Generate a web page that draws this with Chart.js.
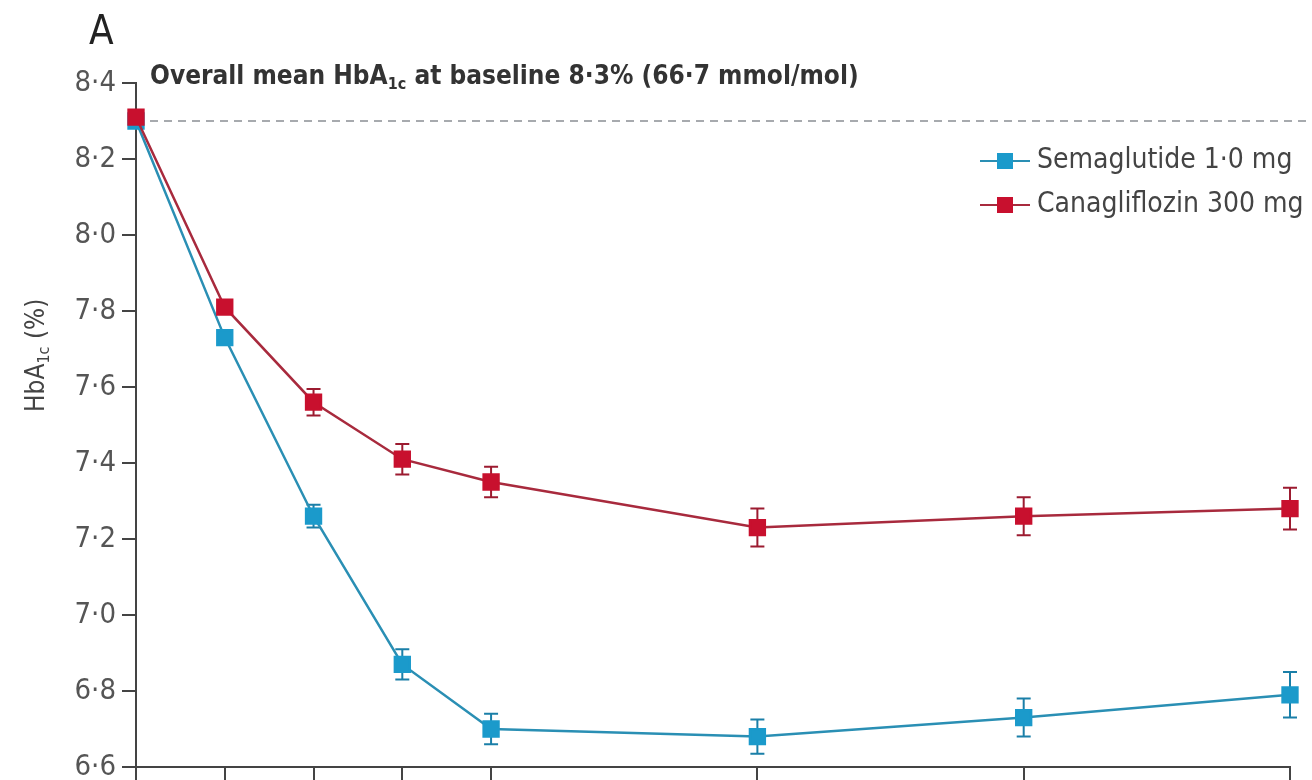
<!DOCTYPE html>
<html>
<head>
<meta charset="utf-8">
<script src="https://cdn.jsdelivr.net/npm/chart.js@4"></script>
<style>
  body { margin: 0; background: #fff; }
  #wrap { width: 1312px; height: 780px; position: relative; }
</style>
</head>
<body>
<div id="wrap"><canvas id="hba1cChart"></canvas></div>
<script>
// weeks since randomisation
const weeks = [0, 4, 8, 12, 16, 28, 40, 52];
const semaglutide = [8.30, 7.73, 7.26, 6.87, 6.70, 6.68, 6.73, 6.79];
const semaglutideErr = [0, 0.015, 0.03, 0.04, 0.04, 0.045, 0.05, 0.06];
const canagliflozin = [8.31, 7.81, 7.56, 7.41, 7.35, 7.23, 7.26, 7.28];
const canagliflozinErr = [0, 0.015, 0.035, 0.04, 0.04, 0.05, 0.05, 0.055];
const yTicks = [6.6, 6.8, 7.0, 7.2, 7.4, 7.6, 7.8, 8.0, 8.2, 8.4];
const baseline = 8.3;

const FONT = "'Liberation Sans Narrow', 'DejaVu Sans Condensed', sans-serif";
const BLUE = '#1b9acb';
const BLUE_LINE = '#2a8fb4';
const RED = '#c8102e';
const RED_LINE = '#a82a3d';

function dot(v) {
    return v.toFixed(1).replace('.', '\u00b7');
}

// text with a "1c" subscript after HbA
function drawHbA(ctx, x, y, size, weight) {
    ctx.font = weight + ' ' + size + 'px ' + FONT;
    ctx.fillText('HbA', x, y);
    let w = ctx.measureText('HbA').width;
    ctx.font = weight + ' ' + Math.round(size * 0.6) + 'px ' + FONT;
    ctx.fillText('1c', x + w, y + size * 0.18);
    w += ctx.measureText('1c').width;
    return x + w;
}

const extras = {
    id: 'extras',
    beforeDatasetsDraw(chart) {
        const ctx = chart.ctx;
        const xs = chart.scales.x, ys = chart.scales.y;
        // dashed baseline
        ctx.save();
        ctx.strokeStyle = '#8a8f94';
        ctx.lineWidth = 1.5;
        ctx.setLineDash([8, 6]);
        ctx.beginPath();
        ctx.moveTo(xs.getPixelForValue(0) + 14, ys.getPixelForValue(baseline));
        ctx.lineTo(chart.width, ys.getPixelForValue(baseline));
        ctx.stroke();
        ctx.restore();
        // error bars
        const sets = [[semaglutide, semaglutideErr, '#1a7fa8'], [canagliflozin, canagliflozinErr, '#9c1b30']];
        sets.forEach(function(s) {
            ctx.save();
            ctx.strokeStyle = s[2];
            ctx.lineWidth = 2;
            weeks.forEach(function(wk, i) {
                if (!s[1][i]) return;
                const px = xs.getPixelForValue(wk);
                const top = ys.getPixelForValue(s[0][i] + s[1][i]);
                const bot = ys.getPixelForValue(s[0][i] - s[1][i]);
                ctx.beginPath();
                ctx.moveTo(px, top); ctx.lineTo(px, bot);
                ctx.moveTo(px - 7, top); ctx.lineTo(px + 7, top);
                ctx.moveTo(px - 7, bot); ctx.lineTo(px + 7, bot);
                ctx.stroke();
            });
            ctx.restore();
        });
    },
    afterDraw(chart) {
        const ctx = chart.ctx;
        ctx.save();
        ctx.fillStyle = '#222';
        ctx.textBaseline = 'alphabetic';
        ctx.textAlign = 'left';
        ctx.font = '40px ' + FONT;
        ctx.fillText('A', 89, 44);
        // title
        ctx.fillStyle = '#333';
        let x = 150;
        ctx.font = 'bold 26px ' + FONT;
        ctx.fillText('Overall mean ', x, 84);
        x += ctx.measureText('Overall mean ').width;
        x = drawHbA(ctx, x, 84, 26, 'bold');
        ctx.font = 'bold 26px ' + FONT;
        ctx.fillText(' at baseline 8\u00b73% (66\u00b77 mmol/mol)', x, 84);
        ctx.restore();
        // y title
        ctx.save();
        ctx.fillStyle = '#444';
        ctx.translate(44, 412);
        ctx.rotate(-Math.PI / 2);
        let tx = drawHbA(ctx, 0, 0, 26, '');
        ctx.font = '26px ' + FONT;
        ctx.fillText(' (%)', tx, 0);
        ctx.restore();
        // legend
        const items = [['Semaglutide 1\u00b70 mg', BLUE, BLUE_LINE, 161], ['Canagliflozin 300 mg', RED, RED_LINE, 205]];
        ctx.save();
        items.forEach(function(it) {
            ctx.strokeStyle = it[2];
            ctx.lineWidth = 2;
            ctx.beginPath();
            ctx.moveTo(980, it[3]); ctx.lineTo(1030, it[3]);
            ctx.stroke();
            ctx.fillStyle = it[1];
            ctx.fillRect(997, it[3] - 8, 16, 16);
            ctx.fillStyle = '#444';
            ctx.font = '28px ' + FONT;
            ctx.textBaseline = 'middle';
            ctx.fillText(it[0], 1037, it[3]);
        });
        ctx.restore();
    }
};

const ctx = document.getElementById('hba1cChart').getContext('2d');
const hba1cChart = new Chart(ctx, {
    type: 'line',
    data: {
        datasets: [{
            label: 'Semaglutide 1\u00b70 mg',
            data: weeks.map((w, i) => ({ x: w, y: semaglutide[i] })),
            borderColor: BLUE_LINE,
            backgroundColor: BLUE,
            pointBackgroundColor: BLUE,
            pointBorderColor: BLUE,
            pointStyle: 'rect',
            pointRadius: 10.5,
            borderWidth: 2.5,
            tension: 0,
            order: 2
        }, {
            label: 'Canagliflozin 300 mg',
            data: weeks.map((w, i) => ({ x: w, y: canagliflozin[i] })),
            borderColor: RED_LINE,
            backgroundColor: RED,
            pointBackgroundColor: RED,
            pointBorderColor: RED,
            pointStyle: 'rect',
            pointRadius: 10.5,
            borderWidth: 2.5,
            tension: 0,
            order: 1
        }]
    },
    options: {
        responsive: true,
        maintainAspectRatio: false,
        animation: false,
        clip: false,
        layout: { padding: { top: 83, right: 22, left: 0, bottom: 0 } },
        scales: {
            x: {
                type: 'linear',
                min: 0,
                max: 52,
                afterBuildTicks: function(scale) {
                    scale.ticks = weeks.map(v => ({ value: v }));
                },
                afterFit: function(scale) { scale.height = 12; },
                ticks: { display: false },
                grid: { drawOnChartArea: false, tickLength: 14, color: '#444', lineWidth: 2 },
                border: { color: '#444', width: 2 }
            },
            y: {
                min: 6.6,
                max: 8.4,
                afterBuildTicks: function(scale) {
                    scale.ticks = yTicks.map(v => ({ value: v }));
                },
                afterFit: function(scale) {
                    scale.width = 136;
                    scale.paddingTop = 0;
                    scale.paddingBottom = 0;
                },
                ticks: {
                    color: '#555',
                    padding: 6,
                    font: { family: FONT, size: 29 },
                    callback: function(value) { return dot(value); }
                },
                grid: { drawOnChartArea: false, tickLength: 14, color: '#444', lineWidth: 2 },
                border: { color: '#444', width: 2 }
            }
        },
        plugins: {
            legend: { display: false },
            tooltip: { enabled: false }
        }
    },
    plugins: [extras]
});
</script>
</body>
</html>
